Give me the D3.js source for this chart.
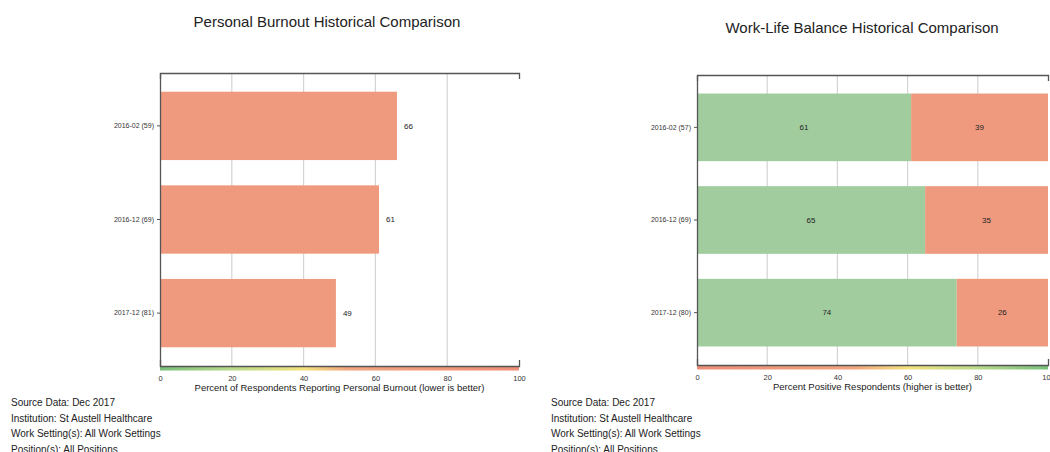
<!DOCTYPE html>
<html>
<head>
<meta charset="utf-8">
<script src="https://cdn.jsdelivr.net/npm/d3@7/dist/d3.min.js"></script>
<style>
  body { margin: 0; background: #fff; }
  svg { display: block; font-family: "Liberation Sans", Arial, sans-serif; }
</style>
</head>
<body>
<svg id="chart" width="1050" height="452"></svg>
<script>
// Personal burnout (percent reporting burnout)
const burnoutPeriods = ["2016-02 (59)", "2016-12 (69)", "2017-12 (81)"];
const burnoutValues = [66, 61, 49];

// Work-life balance (positive vs negative)
const balancePeriods = ["2016-02 (57)", "2016-12 (69)", "2017-12 (80)"];
const balancePositive = [61, 65, 74];
const balanceNegative = [39, 35, 26];

const xTicks = [0, 20, 40, 60, 80, 100];

const footnotes = [
  "Source Data: Dec 2017",
  "Institution: St Austell Healthcare",
  "Work Setting(s): All Work Settings",
  "Position(s): All Positions"
];

const SALMON = "#ef9a7f";
const GREEN = "#a1cc9e";

const svg = d3.select("#chart");
const defs = svg.append("defs");

function gradient(id, stops) {
  const g = defs.append("linearGradient").attr("id", id)
    .attr("x1", "0%").attr("x2", "100%").attr("y1", "0%").attr("y2", "0%");
  stops.forEach(([o, c]) => g.append("stop").attr("offset", o).attr("stop-color", c));
}
gradient("lowerBetter", [["0%", "#78c07a"], ["20%", "#b9d98a"], ["40%", "#f3e27c"], ["52%", "#f1a57e"], ["100%", "#ee8d76"]]);
gradient("higherBetter", [["0%", "#ee8d76"], ["45%", "#f1a57e"], ["60%", "#f3e27c"], ["80%", "#b9d98a"], ["100%", "#78c07a"]]);

function frame(cfg) {
  const g = svg.append("g");
  const x = d3.scaleLinear().domain([0, 100]).range([cfg.x0, cfg.x1]);
  const y = d3.scaleBand().domain(cfg.periods).range([cfg.y0, cfg.y1])
    .paddingInner(0.27).paddingOuter(0.2);

  // title
  svg.append("text").attr("x", cfg.titleX).attr("y", cfg.titleY)
    .attr("text-anchor", "middle").attr("font-size", 15).attr("fill", "#222")
    .text(cfg.title);

  // vertical gridlines
  g.selectAll("line.grid").data(xTicks.slice(1, -1)).join("line")
    .attr("class", "grid")
    .attr("x1", d => x(d)).attr("x2", d => x(d))
    .attr("y1", cfg.y0).attr("y2", cfg.y1)
    .attr("stroke", "#d4d4d4").attr("stroke-width", 1.2);

  // top domain line
  const top = g.append("g").attr("transform", `translate(0,${cfg.y0})`)
    .call(d3.axisTop(x).tickValues([]).tickSizeOuter(-6));
  top.select(".domain").attr("stroke", "#555").attr("stroke-width", 1.3);

  return { g, x, y };
}

function finishAxes(f, cfg, gradId, axisTitle) {
  const { g, x, y } = f;
  // colour strip under the value axis
  g.append("rect").attr("x", cfg.x0).attr("y", cfg.y1)
    .attr("width", cfg.x1 - cfg.x0).attr("height", 4.5)
    .attr("fill", `url(#${gradId})`);

  const bottom = g.append("g").attr("transform", `translate(0,${cfg.y1})`)
    .call(d3.axisBottom(x).tickValues(xTicks).tickSize(5).tickSizeOuter(-6));
  bottom.select(".domain").attr("stroke", "#555").attr("stroke-width", 1.3);
  bottom.selectAll(".tick line").attr("stroke", "none");
  bottom.selectAll(".tick text").attr("font-size", 7.5).attr("fill", "#333")
    .attr("font-family", "Liberation Sans, Arial, sans-serif").attr("dy", "0.9em");

  g.append("text").attr("x", (cfg.x0 + cfg.x1) / 2).attr("y", cfg.y1 + 25)
    .attr("text-anchor", "middle").attr("font-size", 9.5).attr("fill", "#222")
    .text(axisTitle);

  const left = g.append("g").attr("transform", `translate(${cfg.x0},0)`)
    .call(d3.axisLeft(y).tickSize(3).tickSizeOuter(0));
  left.select(".domain").attr("stroke", "#555").attr("stroke-width", 1.3);
  left.selectAll(".tick line").attr("stroke", "#555");
  left.selectAll(".tick text").attr("font-size", 7).attr("fill", "#333")
    .attr("font-family", "Liberation Sans, Arial, sans-serif");

  footnotes.forEach((t, i) => {
    svg.append("text").attr("x", cfg.noteX).attr("y", 406 + i * 15.5)
      .attr("font-size", 10).attr("fill", "#222").text(t);
  });
}

// ---- Personal burnout ----
const cfgA = { x0: 160, x1: 519, y0: 73, y1: 366, periods: burnoutPeriods,
  title: "Personal Burnout Historical Comparison", titleX: 327, titleY: 27, noteX: 11 };
const fa = frame(cfgA);
fa.g.selectAll("rect.bar").data(burnoutValues).join("rect")
  .attr("class", "bar")
  .attr("x", fa.x(0)).attr("y", (d, i) => fa.y(burnoutPeriods[i]))
  .attr("width", d => fa.x(d) - fa.x(0)).attr("height", fa.y.bandwidth())
  .attr("fill", SALMON);
fa.g.selectAll("text.val").data(burnoutValues).join("text")
  .attr("class", "val")
  .attr("x", d => fa.x(d) + 7)
  .attr("y", (d, i) => fa.y(burnoutPeriods[i]) + fa.y.bandwidth() / 2)
  .attr("dy", "0.35em").attr("font-size", 8).attr("fill", "#222")
  .text(d => d);
finishAxes(fa, cfgA, "lowerBetter", "Percent of Respondents Reporting Personal Burnout (lower is better)");

// ---- Work-life balance ----
const cfgB = { x0: 697, x1: 1048, y0: 75, y1: 365, periods: balancePeriods,
  title: "Work-Life Balance Historical Comparison", titleX: 862, titleY: 33, noteX: 551 };
const fb = frame(cfgB);
const stacked = balancePeriods.map((p, i) => ({ p, pos: balancePositive[i], neg: balanceNegative[i] }));
fb.g.selectAll("rect.pos").data(stacked).join("rect")
  .attr("class", "pos")
  .attr("x", fb.x(0)).attr("y", d => fb.y(d.p))
  .attr("width", d => fb.x(d.pos) - fb.x(0)).attr("height", fb.y.bandwidth())
  .attr("fill", GREEN);
fb.g.selectAll("rect.neg").data(stacked).join("rect")
  .attr("class", "neg")
  .attr("x", d => fb.x(d.pos)).attr("y", d => fb.y(d.p))
  .attr("width", d => fb.x(d.pos + d.neg) - fb.x(d.pos)).attr("height", fb.y.bandwidth())
  .attr("fill", SALMON);
fb.g.selectAll("text.posv").data(stacked).join("text")
  .attr("class", "posv")
  .attr("x", d => fb.x(d.pos / 2)).attr("y", d => fb.y(d.p) + fb.y.bandwidth() / 2)
  .attr("dy", "0.35em").attr("text-anchor", "middle").attr("font-size", 8).attr("fill", "#222")
  .text(d => d.pos);
fb.g.selectAll("text.negv").data(stacked).join("text")
  .attr("class", "negv")
  .attr("x", d => fb.x(d.pos + d.neg / 2)).attr("y", d => fb.y(d.p) + fb.y.bandwidth() / 2)
  .attr("dy", "0.35em").attr("text-anchor", "middle").attr("font-size", 8).attr("fill", "#222")
  .text(d => d.neg);
finishAxes(fb, cfgB, "higherBetter", "Percent Positive Respondents (higher is better)");
</script>
</body>
</html>
